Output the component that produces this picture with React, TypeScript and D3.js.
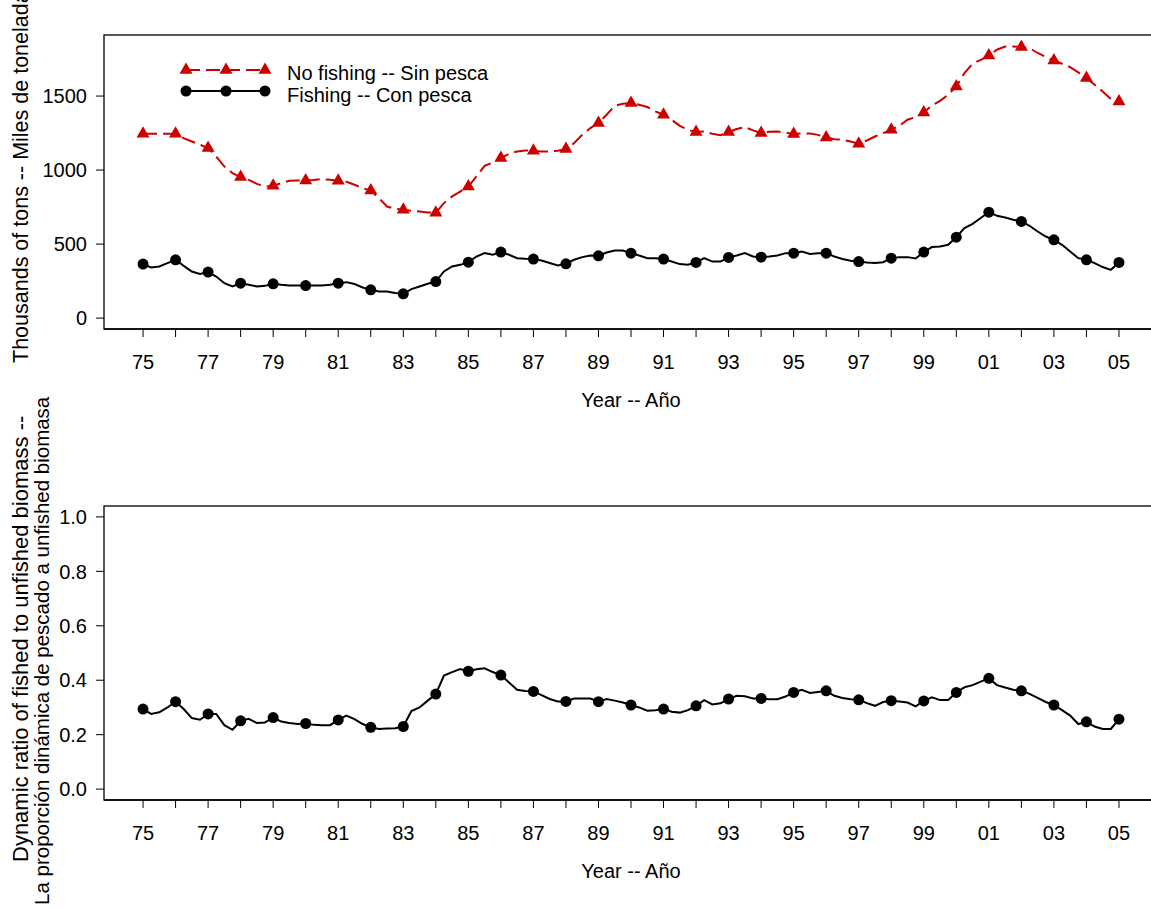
import React from 'react';
import * as d3 from 'd3';

// quarterly series, starting 1975.00, step 0.25 year
const START_YEAR = 1975;
const STEP = 0.25;

const noFishing = [
  1245, 1245, 1245, 1245,
  1245, 1216, 1193, 1171,
  1149, 1092, 1024, 980,
  953, 934, 907, 889,
  894, 912, 928, 930,
  930, 933, 939, 935,
  928, 921, 901, 878,
  862, 811, 754, 738,
  732, 725, 720, 714,
  712, 777, 822, 855,
  889, 957, 1029, 1051,
  1081, 1110, 1126, 1133,
  1130, 1126, 1126, 1130,
  1142, 1182, 1238, 1284,
  1318, 1374, 1434, 1448,
  1453, 1441, 1426, 1396,
  1374, 1340, 1299, 1272,
  1257, 1261, 1245, 1236,
  1257, 1277, 1291, 1268,
  1250, 1259, 1261, 1254,
  1243, 1247, 1247, 1238,
  1220, 1209, 1205, 1193,
  1178, 1200, 1227, 1250,
  1272, 1299, 1340, 1358,
  1389, 1437, 1468, 1509,
  1565, 1655, 1718, 1745,
  1774, 1813, 1835, 1835,
  1831, 1824, 1791, 1764,
  1741, 1718, 1696, 1660,
  1622, 1576, 1531, 1480,
  1464,
];

const fishing = [
  365, 342, 349, 372,
  394, 353, 315, 299,
  311, 281, 236, 214,
  236, 225, 214, 218,
  232, 225, 220, 220,
  220, 220, 220, 225,
  236, 243, 230, 207,
  191, 180, 180, 169,
  164, 196, 214, 232,
  247, 315, 349, 360,
  378, 416, 439, 428,
  446, 428, 405, 401,
  399, 389, 372, 355,
  367, 394, 412, 423,
  421, 443, 457, 457,
  439, 423, 405, 405,
  399, 382, 365, 360,
  376, 405, 382, 382,
  410, 423, 439, 416,
  412, 416, 423, 439,
  439, 450, 434, 439,
  439, 416, 399, 387,
  382, 376, 372, 378,
  405, 412, 412, 403,
  446, 480, 484, 495,
  547, 608, 637, 676,
  716, 691, 680, 664,
  653, 624, 585, 551,
  529, 495, 450, 405,
  394, 372, 345, 326,
  376,
];

const ratio = [
  0.294, 0.276, 0.282, 0.300,
  0.321, 0.294, 0.261, 0.255,
  0.276, 0.276, 0.235, 0.218,
  0.251, 0.258, 0.243, 0.245,
  0.263, 0.248, 0.243, 0.239,
  0.241, 0.236, 0.235, 0.235,
  0.254, 0.270, 0.257, 0.239,
  0.227, 0.221, 0.223, 0.224,
  0.230, 0.287, 0.300, 0.325,
  0.349, 0.417, 0.430, 0.441,
  0.433, 0.440, 0.444, 0.430,
  0.419, 0.392, 0.365, 0.360,
  0.359, 0.345, 0.331, 0.322,
  0.322, 0.333, 0.333, 0.333,
  0.321, 0.331, 0.325, 0.318,
  0.309, 0.300, 0.288, 0.290,
  0.294, 0.284, 0.281, 0.290,
  0.306, 0.327, 0.311, 0.315,
  0.331, 0.343, 0.341, 0.333,
  0.333, 0.330, 0.330, 0.340,
  0.355, 0.365, 0.353, 0.357,
  0.361, 0.343, 0.335, 0.330,
  0.328, 0.316, 0.306, 0.320,
  0.325, 0.322, 0.318, 0.304,
  0.324, 0.337, 0.327, 0.327,
  0.355, 0.374, 0.382, 0.395,
  0.407, 0.382, 0.373, 0.365,
  0.361, 0.350, 0.335, 0.320,
  0.309, 0.290, 0.270, 0.239,
  0.247, 0.230, 0.221, 0.221,
  0.257,
];

const tickYears = [
  1975, 1976, 1977, 1978, 1979, 1980, 1981, 1982, 1983, 1984, 1985,
  1986, 1987, 1988, 1989, 1990, 1991, 1992, 1993, 1994, 1995, 1996,
  1997, 1998, 1999, 2000, 2001, 2002, 2003, 2004, 2005,
];
const labelYears = [1975, 1977, 1979, 1981, 1983, 1985, 1987, 1989, 1991, 1993, 1995, 1997, 1999, 2001, 2003, 2005];
const labelTexts = ['75', '77', '79', '81', '83', '85', '87', '89', '91', '93', '95', '97', '99', '01', '03', '05'];
const topTicks = [0, 500, 1000, 1500];
const topTickLabels = ['0', '500', '1000', '1500'];
const bottomTicks = [0, 0.2, 0.4, 0.6, 0.8, 1.0];
const bottomTickLabels = ['0.0', '0.2', '0.4', '0.6', '0.8', '1.0'];

const legendLabels = ['No fishing -- Sin pesca', 'Fishing -- Con pesca'];
const xTitle = 'Year -- Año';
const topYTitle = 'Thousands of tons -- Miles de toneladas';
const bottomYTitle1 = 'Dynamic ratio of fished to unfished biomass --';
const bottomYTitle2 = 'La proporción dinámica de pescado a unfished biomasa';

const RED = '#CD0000';
const FONT = '"Liberation Sans", Arial, Helvetica, sans-serif';
const FS = 20;

const W = 1151;
const H = 909;
const LEFT = 104;
const RIGHT = 1158;

const x = d3.scaleLinear().domain([1973.8, 2006.2]).range([LEFT, RIGHT]);

const topPanel = { top: 35, bottom: 329 };
const botPanel = { top: 506, bottom: 800 };

const yTop = d3.scaleLinear().domain([-73.5, 1912.5]).range([topPanel.bottom, topPanel.top]);
const yBot = d3.scaleLinear().domain([-0.04, 1.04]).range([botPanel.bottom, botPanel.top]);

type Pt = { t: number; v: number };
const toPts = (arr: number[]): Pt[] => arr.map((v, i) => ({ t: START_YEAR + i * STEP, v }));
const annual = (pts: Pt[]) => pts.filter((_, i) => i % 4 === 0);

function Triangle({ cx, cy, s }: { cx: number; cy: number; s: number }) {
  const h = s * 0.866;
  const p = `M${cx},${cy - (2 * h) / 3} L${cx + s / 2},${cy + h / 3} L${cx - s / 2},${cy + h / 3} Z`;
  return <path d={p} fill={RED} />;
}

function XAxis({ bottom }: { bottom: number }) {
  return (
    <g>
      <line x1={LEFT} x2={RIGHT} y1={bottom} y2={bottom} stroke="#000" strokeWidth={1.3} />
      {tickYears.map((yr) => (
        <line key={yr} x1={x(yr)} x2={x(yr)} y1={bottom} y2={bottom + 8} stroke="#000" strokeWidth={1} />
      ))}
      {labelYears.map((yr, i) => (
        <text key={yr} x={x(yr)} y={bottom + 40} textAnchor="middle" fontSize={FS} fontFamily={FONT}>
          {labelTexts[i]}
        </text>
      ))}
      <text x={(LEFT + RIGHT) / 2} y={bottom + 78} textAnchor="middle" fontSize={FS} fontFamily={FONT}>
        {xTitle}
      </text>
    </g>
  );
}

function YAxis({
  scale,
  ticks,
  labels,
}: {
  scale: d3.ScaleLinear<number, number>;
  ticks: number[];
  labels: string[];
}) {
  return (
    <g>
      {ticks.map((t, i) => (
        <g key={t}>
          <line x1={LEFT - 8} x2={LEFT} y1={scale(t)} y2={scale(t)} stroke="#000" strokeWidth={1} />
          <text x={LEFT - 17} y={scale(t)} dy="0.36em" textAnchor="end" fontSize={FS} fontFamily={FONT}>
            {labels[i]}
          </text>
        </g>
      ))}
    </g>
  );
}

export default function App() {
  const nf = toPts(noFishing);
  const f = toPts(fishing);
  const r = toPts(ratio);

  const lineTop = d3
    .line<Pt>()
    .x((d) => x(d.t))
    .y((d) => yTop(d.v));
  const lineBot = d3
    .line<Pt>()
    .x((d) => x(d.t))
    .y((d) => yBot(d.v));

  const legX = [186, 226, 265];

  return (
    <svg
      width={W}
      height={H}
      style={{ position: 'absolute', left: 0, top: 0, background: '#fff' }}
      xmlns="http://www.w3.org/2000/svg"
    >
      <rect x={0} y={0} width={W} height={H} fill="#fff" />

      {/* Top panel */}
      <rect
        x={LEFT}
        y={topPanel.top}
        width={RIGHT - LEFT}
        height={topPanel.bottom - topPanel.top}
        fill="none"
        stroke="#000"
        strokeWidth={1.3}
      />
      <YAxis scale={yTop} ticks={topTicks} labels={topTickLabels} />
      <XAxis bottom={topPanel.bottom} />
      <text
        transform={`translate(28,363) rotate(-90)`}
        textAnchor="start"
        fontSize={21.5}
        fontFamily={FONT}
      >
        {topYTitle}
      </text>

      <path d={lineTop(nf) || ''} fill="none" stroke={RED} strokeWidth={2} strokeDasharray="14,6" />
      {annual(nf).map((d, i) => (
        <Triangle key={i} cx={x(d.t)} cy={yTop(d.v)} s={13} />
      ))}
      <path d={lineTop(f) || ''} fill="none" stroke="#000" strokeWidth={2} />
      {annual(f).map((d, i) => (
        <circle key={i} cx={x(d.t)} cy={yTop(d.v)} r={5.5} fill="#000" />
      ))}

      {/* Legend */}
      <line x1={legX[0]} x2={legX[2]} y1={70} y2={70} stroke={RED} strokeWidth={2} strokeDasharray="14,6" />
      {legX.map((lx) => (
        <Triangle key={`lt${lx}`} cx={lx} cy={70} s={13} />
      ))}
      <line x1={legX[0]} x2={legX[2]} y1={91} y2={91} stroke="#000" strokeWidth={2} />
      {legX.map((lx) => (
        <circle key={`lc${lx}`} cx={lx} cy={91} r={5.5} fill="#000" />
      ))}
      <text x={287} y={73} dy="0.36em" fontSize={FS} fontFamily={FONT}>
        {legendLabels[0]}
      </text>
      <text x={287} y={95} dy="0.36em" fontSize={FS} fontFamily={FONT}>
        {legendLabels[1]}
      </text>

      {/* Bottom panel */}
      <rect
        x={LEFT}
        y={botPanel.top}
        width={RIGHT - LEFT}
        height={botPanel.bottom - botPanel.top}
        fill="none"
        stroke="#000"
        strokeWidth={1.3}
      />
      <YAxis scale={yBot} ticks={bottomTicks} labels={bottomTickLabels} />
      <XAxis bottom={botPanel.bottom} />
      <text
        transform={`translate(28,862) rotate(-90)`}
        textAnchor="start"
        fontSize={22}
        fontFamily={FONT}
      >
        {bottomYTitle1}
      </text>
      <text
        transform={`translate(49,905) rotate(-90)`}
        textAnchor="start"
        fontSize={20.5}
        fontFamily={FONT}
      >
        {bottomYTitle2}
      </text>

      <path d={lineBot(r) || ''} fill="none" stroke="#000" strokeWidth={2} />
      {annual(r).map((d, i) => (
        <circle key={i} cx={x(d.t)} cy={yBot(d.v)} r={5.5} fill="#000" />
      ))}
    </svg>
  );
}
